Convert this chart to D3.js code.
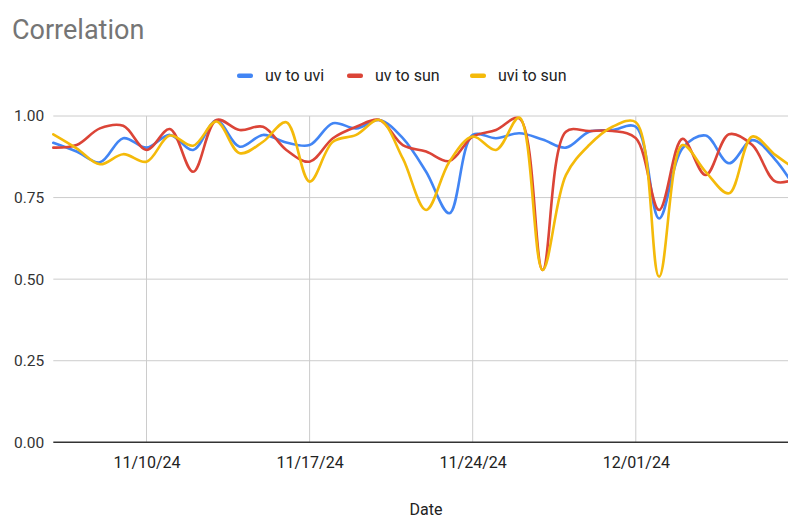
<!DOCTYPE html>
<html><head><meta charset="utf-8">
<script src="https://cdn.jsdelivr.net/npm/d3@7"></script>
<style>html,body{margin:0;padding:0;background:#fff;}svg{display:block;}</style>
</head><body>
<svg id="chart" width="788" height="518"></svg>
<script>
const dates = ["2024-11-06","2024-11-07","2024-11-08","2024-11-09","2024-11-10","2024-11-11","2024-11-12","2024-11-13","2024-11-14","2024-11-15","2024-11-16","2024-11-17","2024-11-18","2024-11-19","2024-11-20","2024-11-21","2024-11-22","2024-11-23","2024-11-24","2024-11-25","2024-11-26","2024-11-27","2024-11-28","2024-11-29","2024-11-30","2024-12-01","2024-12-02","2024-12-03","2024-12-04","2024-12-05","2024-12-06","2024-12-07","2024-12-08"];
const uvToUvi = [0.918,0.891,0.858,0.932,0.903,0.942,0.896,0.986,0.906,0.942,0.919,0.911,0.978,0.962,0.988,0.932,0.829,0.702,0.942,0.932,0.947,0.928,0.903,0.952,0.957,0.967,0.686,0.901,0.940,0.855,0.926,0.865,0.76];
const uvToSun = [0.903,0.911,0.962,0.970,0.896,0.960,0.829,0.988,0.957,0.967,0.896,0.860,0.932,0.967,0.988,0.911,0.891,0.862,0.937,0.957,0.993,0.528,0.952,0.954,0.954,0.932,0.712,0.930,0.819,0.944,0.911,0.799,0.81];
const uviToSun = [0.944,0.901,0.852,0.883,0.860,0.940,0.909,0.983,0.886,0.921,0.981,0.799,0.921,0.942,0.988,0.870,0.712,0.860,0.937,0.896,0.995,0.528,0.819,0.911,0.967,0.981,0.508,0.911,0.829,0.763,0.937,0.880,0.83];
const seriesNames = ["uv to uvi","uv to sun","uvi to sun"];
const seriesColors = ["#4285F4","#DB4437","#F4BA0A"];
const yTicks = [0,0.25,0.5,0.75,1];
const xTickDates = ["2024-11-10","2024-11-17","2024-11-24","2024-12-01"];

const parse = d3.timeParse("%Y-%m-%d");
const fmt = d3.timeFormat("%m/%d/%y");
const svg = d3.select("#chart");
const FONT = "Roboto, 'Liberation Sans', Arial, sans-serif";

const x = d3.scaleTime().domain([parse(dates[0]), parse(dates[dates.length-1])]).range([53.3, 798.9]);
const y = d3.scaleLinear().domain([0,1]).range([442.3,116]);

// title
svg.append("text").attr("x",12).attr("y",39).attr("font-family",FONT).attr("font-size",27)
  .attr("fill","#757575").text("Correlation");

// gridlines
const g = svg.append("g");
g.selectAll(".hg").data(yTicks.filter(v=>v>0)).join("line")
  .attr("x1",53.3).attr("x2",798.9).attr("y1",d=>y(d)).attr("y2",d=>y(d))
  .attr("stroke","#cccccc").attr("stroke-width",1);
g.selectAll(".vg").data(xTickDates).join("line")
  .attr("x1",d=>x(parse(d))).attr("x2",d=>x(parse(d))).attr("y1",116).attr("y2",442.3)
  .attr("stroke","#cccccc").attr("stroke-width",1);

// y axis labels
const yAxis = d3.axisLeft(y).tickValues(yTicks).tickFormat(d3.format(".2f")).tickSize(0).tickPadding(9);
const ya = svg.append("g").attr("transform","translate(53.3,0)").call(yAxis);
ya.select(".domain").remove();
ya.selectAll("text").attr("font-family",FONT).attr("font-size",15.5).attr("fill","#333");

// x axis labels
const xAxis = d3.axisBottom(x).tickValues(xTickDates.map(parse)).tickFormat(fmt).tickSize(0).tickPadding(14);
const xa = svg.append("g").attr("transform","translate(0,442.3)").call(xAxis);
xa.select(".domain").remove();
xa.selectAll("text").attr("font-family",FONT).attr("font-size",16).attr("fill","#222");

// lines
const allSeries = [uvToUvi, uvToSun, uviToSun];
const line = d3.line().x((d,i)=>x(parse(dates[i]))).y(d=>y(d)).curve(d3.curveCatmullRom.alpha(0.5));
svg.append("g").selectAll("path").data(allSeries).join("path")
  .attr("d",d=>line(d)).attr("fill","none")
  .attr("stroke",(d,i)=>seriesColors[i]).attr("stroke-width",2.6)
  .attr("stroke-linejoin","round").attr("stroke-linecap","round");

// baseline
svg.append("line").attr("x1",53.3).attr("x2",798.9).attr("y1",y(0)).attr("y2",y(0))
  .attr("stroke","#333").attr("stroke-width",1.5);

// x title
svg.append("text").attr("x",426).attr("y",515).attr("text-anchor","middle")
  .attr("font-family",FONT).attr("font-size",16).attr("fill","#222").text("Date");

// legend
const legendX = [237, 347, 470];
const lg = svg.append("g");
seriesNames.forEach((n,i)=>{
  lg.append("rect").attr("x",legendX[i]).attr("y",73.5).attr("width",16).attr("height",4.5).attr("rx",2)
    .attr("fill",seriesColors[i]);
  lg.append("text").attr("x",legendX[i]+28).attr("y",81).attr("font-family",FONT).attr("font-size",16)
    .attr("fill","#222").text(n);
});
</script>
</body></html>
